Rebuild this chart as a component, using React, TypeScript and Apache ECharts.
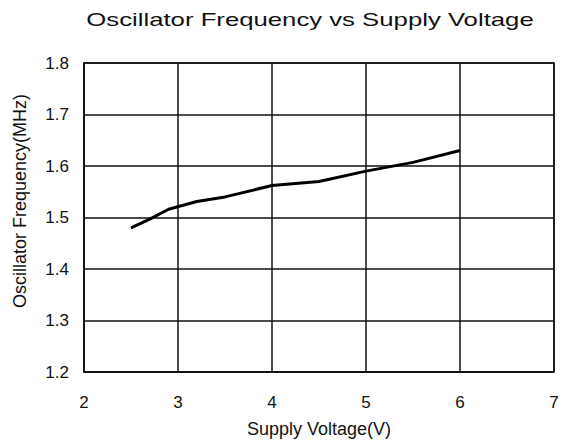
import React, { useEffect, useRef } from "react";
import * as echarts from "echarts";

const titleText = "Oscillator Frequency vs Supply Voltage";
const xName = "Supply Voltage(V)";
const yName = "Oscillator Frequency(MHz)";
const voltage = [2.5, 2.7, 2.9, 3.2, 3.5, 4.0, 4.5, 5.0, 5.5, 6.0];
const frequency = [1.48, 1.497, 1.516, 1.531, 1.54, 1.562, 1.57, 1.59, 1.607, 1.63];

const FONT = "Liberation Sans, Arial, sans-serif";

export default function App() {
  const ref = useRef<HTMLDivElement>(null);
  useEffect(() => {
    if (!ref.current) return;
    const chart = echarts.init(ref.current, null, { renderer: "svg" });
    chart.setOption({
      animation: false,
      backgroundColor: "#ffffff",
      grid: {
        left: 84,
        right: 8,
        top: 63,
        bottom: 74,
        show: true,
        borderColor: "#111",
        borderWidth: 1.5,
        backgroundColor: "transparent",
      },
      graphic: [
        {
          type: "text",
          x: 310,
          y: 20,
          scaleX: 1.43,
          style: {
            text: titleText,
            fontFamily: FONT,
            fontSize: 18,
            fill: "#111",
            align: "center",
            verticalAlign: "middle",
          },
        },
        {
          type: "text",
          x: 20,
          y: 201,
          rotation: Math.PI / 2,
          style: {
            text: yName,
            fontFamily: FONT,
            fontSize: 18,
            fill: "#111",
            align: "center",
            verticalAlign: "middle",
          },
        },
      ],
      xAxis: {
        type: "value",
        min: 2,
        max: 7,
        interval: 1,
        name: xName,
        nameLocation: "middle",
        nameGap: 48,
        nameTextStyle: { fontFamily: FONT, fontSize: 18, color: "#111" },
        axisLine: { show: true, lineStyle: { color: "#111", width: 1.5 } },
        axisTick: { show: false },
        axisLabel: { margin: 22, fontFamily: FONT, fontSize: 17, color: "#111" },
        splitLine: { show: true, lineStyle: { color: "#111", width: 1.5 } },
      },
      yAxis: {
        type: "value",
        min: 1.2,
        max: 1.8,
        interval: 0.1,
        axisLine: { show: true, lineStyle: { color: "#111", width: 1.5 } },
        axisTick: { show: false },
        axisLabel: {
          margin: 15,
          fontFamily: FONT,
          fontSize: 17,
          color: "#111",
          formatter: (v: number) => v.toFixed(1),
        },
        splitLine: { show: true, lineStyle: { color: "#111", width: 1.5 } },
      },
      series: [
        {
          type: "line",
          data: voltage.map((v, i) => [v, frequency[i]]),
          showSymbol: false,
          lineStyle: { color: "#000", width: 3 },
        },
      ],
    });
    return () => chart.dispose();
  }, []);
  return <div ref={ref} style={{ width: 562, height: 446, position: "absolute", left: 0, top: 0 }} />;
}
